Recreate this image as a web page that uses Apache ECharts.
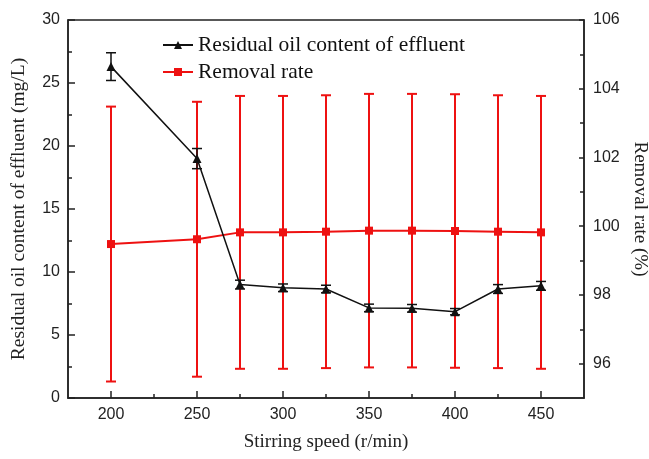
<!DOCTYPE html>
<html>
<head>
<meta charset="utf-8">
<script src="https://cdn.jsdelivr.net/npm/echarts@6/dist/echarts.min.js"></script>
<style>html,body{margin:0;padding:0;background:#fff}#c{width:649px;height:459px}</style>
</head>
<body>
<div id="c"></div>
<script>
var speeds = [200, 250, 275, 300, 325, 350, 375, 400, 425, 450];
var residualOil = [26.3, 19.0, 9.0, 8.75, 8.65, 7.15, 7.12, 6.85, 8.65, 8.9];
var residualErr = [1.1, 0.8, 0.35, 0.3, 0.3, 0.3, 0.3, 0.25, 0.35, 0.35];
var removalRate = [99.48, 99.62, 99.82, 99.82, 99.84, 99.87, 99.87, 99.86, 99.84, 99.82];
var removalErr = [4.0, 4.0, 3.97, 3.97, 3.97, 3.98, 3.98, 3.98, 3.97, 3.97];
var xMajorTicks = [200, 250, 300, 350, 400, 450];
var xMinorTicks = [225, 275, 325, 375, 425];
var rightMajorTicks = [96, 98, 100, 102, 104, 106];
var rightMinorTicks = [97, 99, 101, 103, 105];

var chart = echarts.init(document.getElementById('c'));
var axisColor = '#222';
var serif = '"Liberation Serif", "Times New Roman", serif';
var sans = '"Liberation Sans", Arial, sans-serif';

function pairs(vals) { return speeds.map(function (s, i) { return [s, vals[i]]; }); }
function errData(vals, errs) { return speeds.map(function (s, i) { return [s, vals[i] - errs[i], vals[i] + errs[i]]; }); }
function errRender(color, capW, lw) {
  return function (params, api) {
    var x = api.value(0);
    var lo = api.coord([x, api.value(1)]);
    var hi = api.coord([x, api.value(2)]);
    var st = { stroke: color, lineWidth: lw };
    return {
      type: 'group',
      children: [
        { type: 'line', shape: { x1: lo[0], y1: lo[1], x2: hi[0], y2: hi[1] }, style: st },
        { type: 'line', shape: { x1: lo[0] - capW, y1: lo[1], x2: lo[0] + capW, y2: lo[1] }, style: st },
        { type: 'line', shape: { x1: hi[0] - capW, y1: hi[1], x2: hi[0] + capW, y2: hi[1] }, style: st }
      ]
    };
  };
}

var option = {
  animation: false,
  backgroundColor: '#fff',
  grid: { left: 68, right: 65, top: 20, bottom: 61, containLabel: false, outerBoundsMode: 'none', show: true, borderColor: axisColor, borderWidth: 1.5, backgroundColor: 'transparent' },
  legend: {
    data: ['Residual oil content of effluent', 'Removal rate'],
    orient: 'vertical', left: 157, top: 29, itemGap: 5, itemWidth: 30, itemHeight: 10,
    textStyle: { fontFamily: serif, fontSize: 21.5, color: '#111' }
  },
  xAxis: [
    {
      type: 'value', min: 175, max: 475,
      name: 'Stirring speed (r/min)', nameLocation: 'middle', nameGap: 35,
      nameTextStyle: { fontFamily: serif, fontSize: 19, color: '#222' },
      axisLine: { show: true, lineStyle: { color: axisColor, width: 1.5 } },
      axisTick: { show: true, inside: true, length: 7, customValues: xMajorTicks, lineStyle: { color: axisColor, width: 1.5 } },
      axisLabel: { customValues: xMajorTicks, fontFamily: sans, fontSize: 16, color: '#222', margin: 9 },
      splitLine: { show: false }
    },
    {
      type: 'value', min: 175, max: 475, position: 'bottom',
      axisLine: { show: false },
      axisTick: { show: true, inside: true, length: 4, customValues: xMinorTicks, lineStyle: { color: axisColor, width: 1.5 } },
      axisLabel: { show: false },
      splitLine: { show: false }
    }
  ],
  yAxis: [
    {
      type: 'value', min: 0, max: 30, interval: 5, position: 'left',
      name: 'Residual oil content of effluent (mg/L)', nameLocation: 'middle', nameGap: 39,
      nameTextStyle: { fontFamily: serif, fontSize: 19.5, color: '#222' },
      axisLine: { show: true, lineStyle: { color: axisColor, width: 1.5 } },
      axisTick: { show: true, inside: true, length: 7, lineStyle: { color: axisColor, width: 1.5 } },
      minorTick: { show: true, splitNumber: 2, length: 4, lineStyle: { color: axisColor, width: 1.5 } },
      axisLabel: { fontFamily: sans, fontSize: 16, color: '#222', margin: 8 },
      splitLine: { show: false }
    },
    {
      type: 'value', min: 95, max: 106, position: 'right',
      name: 'Removal rate (%)', nameLocation: 'middle', nameGap: 42, nameRotate: -90,
      nameTextStyle: { fontFamily: serif, fontSize: 19, color: '#222' },
      axisLine: { show: true, lineStyle: { color: axisColor, width: 1.5 } },
      axisTick: { show: true, inside: true, length: 5, customValues: rightMajorTicks, lineStyle: { color: axisColor, width: 1.5 } },
      axisLabel: { customValues: rightMajorTicks, fontFamily: sans, fontSize: 16, color: '#222', margin: 9 },
      splitLine: { show: false }
    },
    {
      type: 'value', min: 95, max: 106, position: 'right',
      axisLine: { show: false },
      axisTick: { show: true, inside: true, length: 4, customValues: rightMinorTicks, lineStyle: { color: axisColor, width: 1.5 } },
      axisLabel: { show: false },
      splitLine: { show: false }
    }
  ],
  series: [
    {
      name: 'Removal rate err', type: 'custom', yAxisIndex: 1, z: 2,
      renderItem: errRender('#ee1111', 5, 2), data: errData(removalRate, removalErr)
    },
    {
      name: 'Removal rate', type: 'line', yAxisIndex: 1, z: 3,
      data: pairs(removalRate), symbol: 'rect', symbolSize: 8,
      lineStyle: { color: '#ee1111', width: 2 }, itemStyle: { color: '#ee1111' }
    },
    {
      name: 'Residual err', type: 'custom', yAxisIndex: 0, z: 4,
      renderItem: errRender('#111', 5, 1.5), data: errData(residualOil, residualErr)
    },
    {
      name: 'Residual oil content of effluent', type: 'line', yAxisIndex: 0, z: 5,
      data: pairs(residualOil), symbol: 'triangle', symbolSize: 9,
      lineStyle: { color: '#111', width: 1.5 }, itemStyle: { color: '#111' }
    }
  ]
};
chart.setOption(option);
</script>
</body>
</html>
